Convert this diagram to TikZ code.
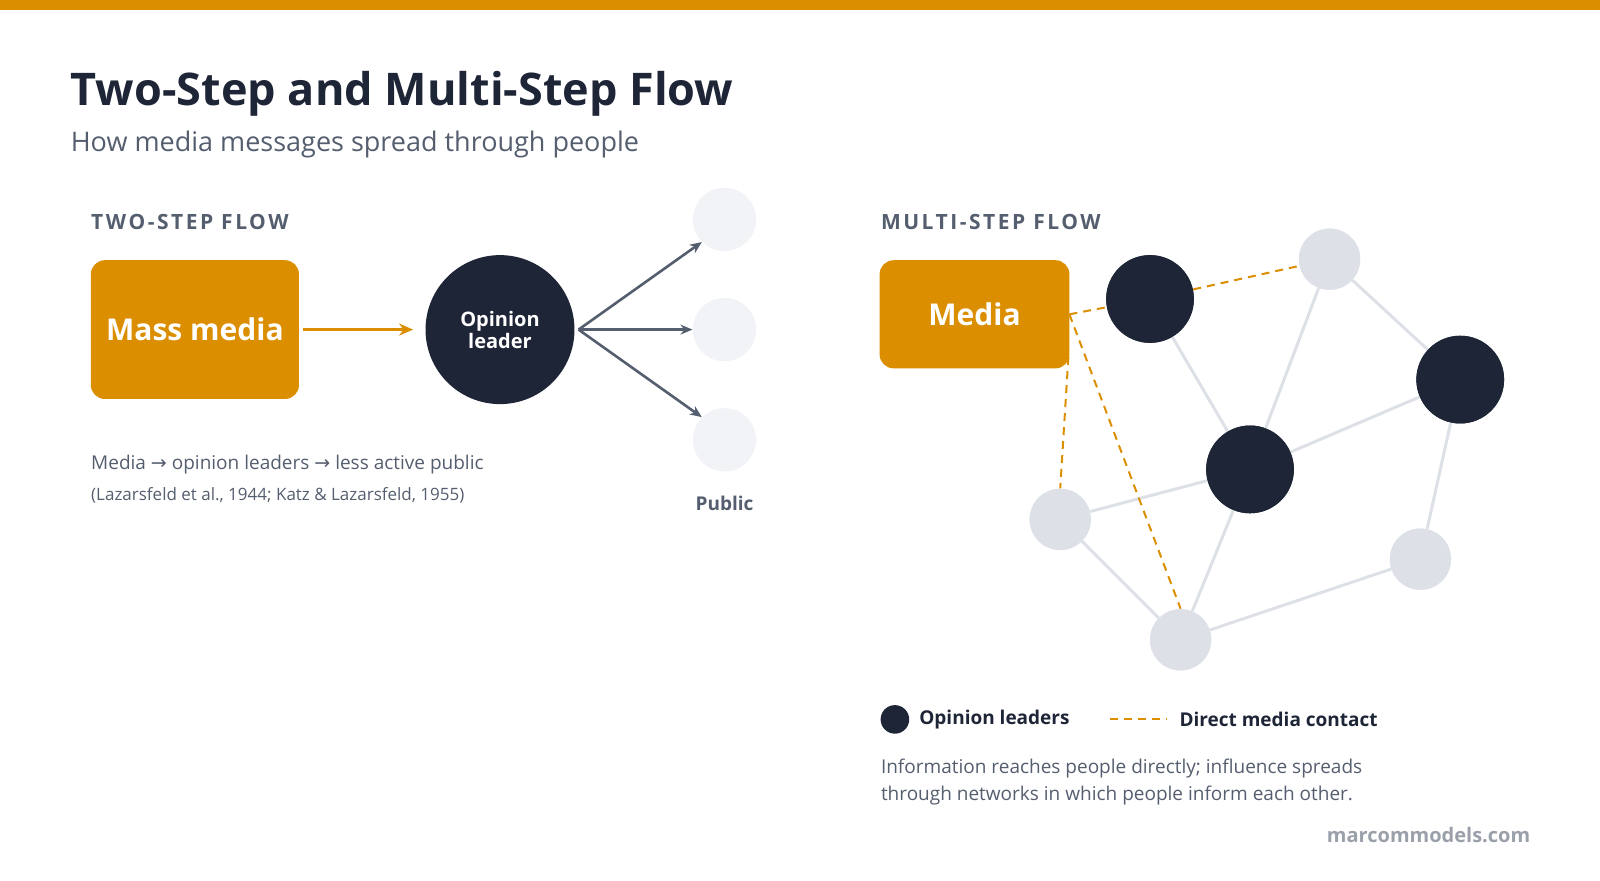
\documentclass[tikz,border=0pt]{standalone}
\usepackage{fontspec}
\setmainfont{Open Sans}
\newfontfamily\arr{DejaVu Sans}
\usetikzlibrary{arrows.meta}
\definecolor{org}{HTML}{DB8F00}
\definecolor{navy}{HTML}{1E2536}
\definecolor{gry}{HTML}{555E6E}
\definecolor{lite}{HTML}{DDE1E7}
\definecolor{pub}{HTML}{F1F3F7}
\definecolor{wm}{HTML}{9AA0AA}
\begin{document}
\begin{tikzpicture}[x=0.5102pt,y=-0.5102pt,
  box/.style={fill=org,rounded corners=7pt,text=white,font=\bfseries\fontsize{15}{18}\selectfont},
  lead/.style={circle,fill=navy,minimum size=86*0.5102pt,inner sep=0},
  lnode/.style={circle,fill=lite,minimum size=60*0.5102pt,inner sep=0},
  edge/.style={lite,line width=1.5pt},
  dsh/.style={org,line width=1pt,dash pattern=on 4pt off 3pt},
  hd/.style={anchor=base west,text=gry,font=\bfseries\fontsize{10.5}{12}\selectfont},
  ga/.style={gry,line width=1.3pt,-{Stealth[length=6pt,width=5pt]}}]
\useasboundingbox (0,0) rectangle (1568,862.4);
\fill[org] (0,0) rectangle (1568,10);
\node[anchor=base west,text=navy,font=\bfseries\fontsize{22.5}{27}\selectfont,inner sep=0] (title) at (69,103) {Two-Step and Multi-Step Flow};
\node[anchor=base west,text=gry,font=\fontsize{13.5}{16}\selectfont,inner sep=0] (sub) at (69,148) {How media messages spread through people};
% two-step
\node[hd,inner sep=0] (h1) at (89,225) {\addfontfeature{LetterSpace=12}TWO-STEP FLOW};
\node[box,minimum width=204*0.5102pt,minimum height=136*0.5102pt] (mm) at (191,323) {Mass media};
\node[circle,fill=navy,minimum size=146*0.5102pt,inner sep=0,text=white,align=center,font=\bfseries\fontsize{10}{9}\selectfont] (ol) at (490,323) {Opinion\\leader};
\draw[org,line width=1.5pt,-{Stealth[length=7pt,width=6pt]}] (mm.east)++(4,0) -- ([xshift=-6]ol.west);
\foreach \i/\y in {1/215,2/323,3/431}{\node[circle,fill=pub,minimum size=62*0.5102pt] (p\i) at (710,\y) {};}
\coordinate (o) at (567,323);
\draw[ga] (o) -- (p1.south west);
\draw[ga] (o) -- (p2.west);
\draw[ga] (o) -- (p3.north west);
\node[anchor=base,text=gry,font=\bfseries\fontsize{9.5}{11}\selectfont] (pl) at (710,500) {Public};
\node[anchor=base west,text=gry,font=\fontsize{9.5}{11}\selectfont,inner sep=0] (t1) at (89,460) {Media {\arr→} opinion leaders {\arr→} less active public};
\node[anchor=base west,text=gry,font=\fontsize{8.5}{10}\selectfont,inner sep=0] (t2) at (89,490) {(Lazarsfeld et al., 1944; Katz \& Lazarsfeld, 1955)};
% multi-step
\node[hd,inner sep=0] (h2) at (863,225) {\addfontfeature{LetterSpace=12}MULTI-STEP FLOW};
\node[box,minimum width=186*0.5102pt,minimum height=106*0.5102pt] (md) at (955,308) {Media};
\node[lnode] (D) at (1303,254) {};
\node[lnode] (E) at (1039,509) {};
\node[lnode] (F) at (1157,627) {};
\node[lnode] (G) at (1392,548) {};
\node[lead] (A) at (1127,293) {};
\node[lead] (B) at (1225,460) {};
\node[lead] (C) at (1431,372) {};
\draw[edge] (A) -- (B);
\draw[edge] (D) -- (B);
\draw[edge] (D) -- (C);
\draw[edge] (C) -- (B);
\draw[edge] (C) -- (G);
\draw[edge] (E) -- (B);
\draw[edge] (E) -- (F);
\draw[edge] (F) -- (B);
\draw[edge] (F) -- (G);
\node[lead] at (A) {};\node[lead] at (B) {};\node[lead] at (C) {};
\node[lnode] at (D) {};\node[lnode] at (E) {};\node[lnode] at (F) {};\node[lnode] at (G) {};
\coordinate (m1) at (1048,308);
\coordinate (m2) at (1047,350);
\draw[dsh] (m1) -- (A);
\draw[dsh] (A) -- (D);
\draw[dsh] (m2) -- (E.north);
\draw[dsh] (m1) -- (F.north);
% legend
\node[circle,fill=navy,minimum size=28*0.5102pt,inner sep=0] (lg1) at (877,705) {};
\node[anchor=west,text=navy,font=\bfseries\fontsize{9.5}{11}\selectfont] (lt1) at (894,705) {Opinion leaders};
\coordinate (d1) at (1088,705); \coordinate (d2) at (1143,705);
\draw[dsh] (d1) -- (d2);
\node[anchor=west,text=navy,font=\bfseries\fontsize{9.5}{11}\selectfont] (lt2) at (1149,705) {Direct media contact};
\node[anchor=base west,text=gry,font=\fontsize{9.5}{13}\selectfont,inner sep=0] (c1) at (863,758) {Information reaches people directly; influence spreads};
\node[anchor=base west,text=gry,font=\fontsize{9.5}{13}\selectfont,inner sep=0] (c2) at (863,784) {through networks in which people inform each other.};
\node[anchor=base east,text=wm,font=\bfseries\fontsize{10}{12}\selectfont,inner sep=0] (wm) at (1500,826) {marcommodels.com};
\end{tikzpicture}
\end{document}
